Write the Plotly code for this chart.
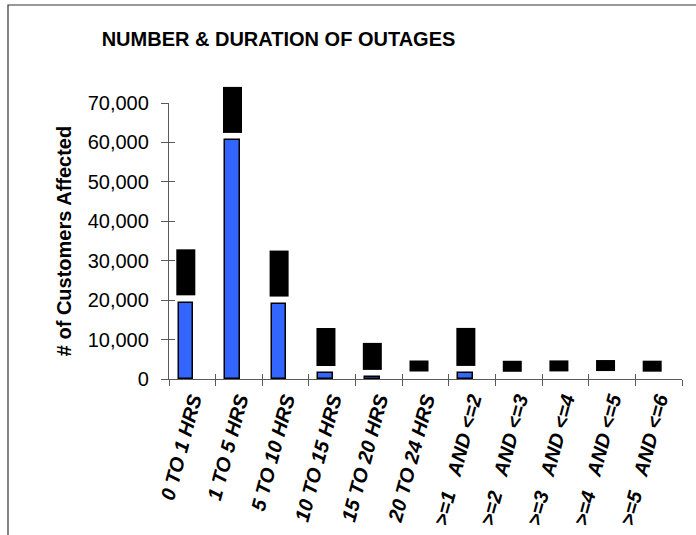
import plotly.graph_objects as go

# Outage duration buckets and customers affected in each
GAP = "\u00a0" * 3
categories = [
    "0 TO 1 HRS", "1 TO 5 HRS", "5 TO 10 HRS", "10 TO 15 HRS",
    "15 TO 20 HRS", "20 TO 24 HRS",
    f">=1{GAP}AND <=2", f">=2{GAP}AND <=3",
    f">=3{GAP}AND <=4", f">=4{GAP}AND <=5",
    f">=5{GAP}AND <=6",
]
customers = [19400, 60500, 18900, 1450, 500, 0, 1450, 0, 0, 0, 0]
y_ticks = [0, 10000, 20000, 30000, 40000, 50000, 60000, 70000]

FONT = "Liberation Sans, Arial, sans-serif"
AXIS_GREY = "#5a5a5a"

fig = go.Figure()

fig.add_trace(go.Bar(
    x=categories,
    y=customers,
    width=0.31,
    offset=-0.295,
    marker=dict(
        color="#3366FF",
        # empty buckets get no outline so nothing shows on the baseline
        line=dict(color="black", width=[1.5 if v > 0 else 0 for v in customers]),
    ),
    showlegend=False,
    hoverinfo="x+y",
))

# helper trace so the overlay axes (inner half of the crossing ticks) have categories
fig.add_trace(go.Scatter(
    x=categories, y=[0] * len(categories),
    xaxis="x2", yaxis="y2", mode="markers",
    marker=dict(opacity=0), showlegend=False, hoverinfo="skip",
))

# value labels drawn as black boxes above each bar
for cat, val in zip(categories, customers):
    fig.add_annotation(
        x=cat, y=val, xref="x", yref="y",
        text=f"<b>{val:,}</b>", showarrow=False,
        textangle=-90, xanchor="center", yanchor="bottom",
        xshift=-6.5, yshift=7,
        font=dict(family=FONT, size=14, color="black"),
        bgcolor="black", borderpad=1,
    )

axis_common = dict(showline=True, linecolor=AXIS_GREY, linewidth=1.3,
                   tickcolor=AXIS_GREY, tickwidth=1.3, showgrid=False,
                   zeroline=False, automargin=False)

fig.update_layout(
    width=696, height=535,
    margin=dict(l=169, r=14, t=103, b=156),
    paper_bgcolor="white", plot_bgcolor="white",
    font=dict(family=FONT, color="black"),
    title=dict(
        text="<b>NUMBER & DURATION OF OUTAGES</b>",
        font=dict(family=FONT, size=20, color="black"),
        xref="container", yref="container",
        x=278.5 / 696, y=1 - 38.5 / 535, xanchor="center", yanchor="middle",
        automargin=False,
    ),
    bargap=0,
    xaxis=dict(
        type="category", categoryorder="array", categoryarray=categories,
        range=[-0.5, len(categories) - 0.5],
        ticks="outside", ticklen=6, tickson="boundaries",
        tickangle=-75,
        tickfont=dict(family=FONT, size=20, color="black",
                      weight="bold", style="italic"),
        **axis_common,
    ),
    xaxis2=dict(
        type="category", categoryorder="array", categoryarray=categories,
        range=[-0.5, len(categories) - 0.5], overlaying="x",
        ticks="inside", ticklen=5, tickson="boundaries",
        showticklabels=False, showline=False, showgrid=False, zeroline=False,
        tickcolor=AXIS_GREY, tickwidth=1.3,
    ),
    yaxis=dict(
        range=[0, 70000], tickvals=y_ticks, tickformat=",d",
        ticks="outside", ticklen=7, ticklabelstandoff=8,
        tickfont=dict(family=FONT, size=20, color="black"),
        title=dict(text="<b># of Customers Affected</b>",
                   font=dict(family=FONT, size=20, color="black"), standoff=10),
        **axis_common,
    ),
    yaxis2=dict(
        range=[0, 70000], tickvals=y_ticks, overlaying="y",
        ticks="inside", ticklen=6, showticklabels=False,
        showline=False, showgrid=False, zeroline=False,
        tickcolor=AXIS_GREY, tickwidth=1.3,
    ),
    shapes=[dict(
        type="rect", xref="paper", yref="paper",
        x0=(8 - 169) / 513, x1=(720 - 169) / 513,
        y0=(379 - 560) / 276, y1=(379 - 5) / 276,
        line=dict(color="#333333", width=1.2), fillcolor="rgba(0,0,0,0)",
        layer="above",
    )],
)

fig.write_html("out.html")
